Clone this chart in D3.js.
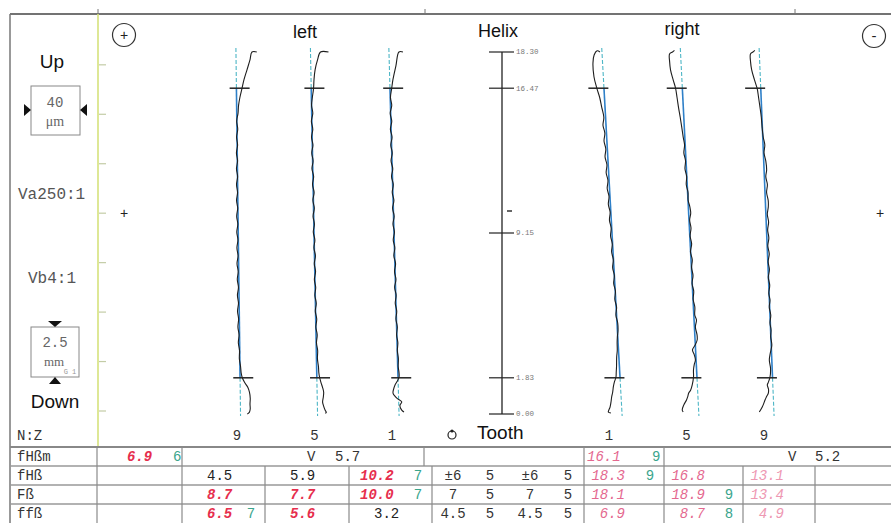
<!DOCTYPE html>
<html>
<head>
<meta charset="utf-8">
<script src="https://cdn.jsdelivr.net/npm/d3@7"></script>
<style>
  html, body { margin: 0; padding: 0; background: #fff; }
  svg { display: block; }
  .mono { font-family: "Liberation Mono", "DejaVu Sans Mono", monospace; }
  .sans { font-family: "Liberation Sans", Arial, sans-serif; }
</style>
</head>
<body>
<svg id="chart" width="891" height="523"></svg>
<script>
// Helix deviation chart, left and right flank, 3 teeth each

const leftTeeth = [9, 5, 1];
const rightTeeth = [1, 5, 9];
const helixTicks = [0, 1.83, 9.15, 16.47, 18.30];
const helixLabels = ['0.00', '1.83', '9.15', '16.47', '18.30'];
const evalRange = [1.83, 16.47];
const gridTicks = [0, 2.5, 5, 7.5, 10, 12.5, 15, 17.5];

// reference line per tooth: deviation (µm) at 0 mm and at 18.30 mm
const leftRefLines = [[4.4, -1.3], [3.8, -5.0], [8.8, -3.8]];
const rightRefLines = [[16.3, -8.8], [15.4, -7.5], [12.5, -5.9]];

// measured traces: [helix position mm, deviation from reference line µm]
const traceLeft9 = [[18.3, 26], [18.3, 20], [17.9, 17.4], [17.4, 13.5], [16.9, 9.6], [16.45, 6.9], [16.0, 4.2], [15.6, 2.4], [15.2, 1.6], [14.8, -0.2], [14.4, 1.0], [14.0, -0.6], [13.6, 0.6], [13.2, -1.0], [12.8, 0.3], [12.4, -1.2], [12.0, 0.1], [11.6, -1.4], [11.2, -0.2], [10.8, -1.6], [10.4, -0.3], [10.0, -1.7], [9.6, -0.4], [9.2, -1.8], [8.8, -0.5], [8.4, -1.9], [8.0, -0.6], [7.6, -2.0], [7.2, -0.7], [6.8, -1.9], [6.4, -0.6], [6.0, -2.0], [5.6, -0.8], [5.2, -2.1], [4.8, -0.9], [4.4, -1.9], [4.0, -0.6], [3.6, -1.6], [3.2, -0.2], [2.8, -0.6], [2.4, 0.8], [2.1, 1.4], [1.87, 2.5], [1.6, 5.5], [1.35, 9.5], [1.1, 11.5], [0.8, 12.4], [0.5, 12.0], [0.25, 12.2], [0.08, 11.0], [0.0, 8.5]];
const traceLeft5 = [[18.3, 22.5], [18.3, 12.5], [17.9, 8.6], [17.4, 5.3], [16.9, 3.7], [16.45, 2.9], [16.0, 1.2], [15.6, 0.0], [15.2, 1.4], [14.8, -0.6], [14.4, 1.0], [14.0, -0.8], [13.6, 0.8], [13.2, -0.9], [12.8, 0.6], [12.4, -1.0], [12.0, 0.9], [11.6, -0.7], [11.2, 1.1], [10.8, -0.6], [10.4, 1.0], [10.0, -0.8], [9.6, 0.7], [9.2, -0.9], [8.8, 0.9], [8.4, -0.5], [8.0, 1.2], [7.6, -0.4], [7.2, 1.0], [6.8, -0.7], [6.4, 0.8], [6.0, -0.5], [5.6, 1.1], [5.2, -0.3], [4.8, 1.3], [4.4, 0.0], [4.0, 1.5], [3.6, 0.4], [3.2, 1.7], [2.8, 1.2], [2.4, 2.3], [2.1, 2.6], [1.87, 3.4], [1.6, 5.0], [1.35, 6.9], [1.1, 8.2], [0.85, 7.6], [0.6, 6.6], [0.4, 7.8], [0.2, 9.5], [0.08, 11.0], [0.04, 9.6]];
const traceLeft1 = [[18.3, 17.5], [18.3, 12.5], [17.6, 8.2], [16.9, 4.0], [16.45, 2.1], [16.0, 0.3], [15.6, 1.6], [15.2, -0.6], [14.8, 1.1], [14.4, -0.9], [14.0, 0.9], [13.6, -1.0], [13.2, 0.6], [12.8, -1.2], [12.4, 0.7], [12.0, -1.1], [11.6, 0.8], [11.2, -0.8], [10.8, 1.0], [10.4, -0.9], [10.0, 0.8], [9.6, -1.0], [9.2, 0.6], [8.8, -1.2], [8.4, 0.5], [8.0, -1.0], [7.6, 0.9], [7.2, -0.7], [6.8, 0.8], [6.4, -1.1], [6.0, 0.5], [5.6, -0.9], [5.2, 0.7], [4.8, -0.6], [4.4, 0.9], [4.0, -0.3], [3.6, 1.0], [3.2, 0.1], [2.8, 1.1], [2.4, 0.6], [2.1, 1.4], [1.87, 1.3], [1.65, -1.2], [1.47, -4.0], [1.25, -6.0], [1.06, -6.8], [0.9, -4.5], [0.78, -1.5], [0.61, 3.8], [0.45, 1.5], [0.3, 2.0], [0.2, 3.5], [0.1, 6.2]];
const traceRight1 = [[18.3, -2.5], [18.36, -6.0], [18.15, -10.0], [17.75, -12.0], [17.05, -11.7], [16.45, -8.8], [16.0, -6.0], [15.5, -4.1], [15.0, -2.2], [14.6, -3.8], [14.2, -2.0], [13.8, -3.6], [13.4, -1.9], [13.0, -3.4], [12.6, -1.6], [12.2, -3.1], [11.8, -1.4], [11.4, -2.9], [11.0, -1.2], [10.6, -2.6], [10.2, -0.9], [9.8, -2.3], [9.4, -0.7], [9.0, -2.0], [8.6, -0.4], [8.2, -1.8], [7.8, -0.2], [7.4, -1.6], [7.0, 0.0], [6.6, -1.4], [6.2, 0.3], [5.8, -1.1], [5.4, 0.6], [5.0, -0.8], [4.6, 0.9], [4.25, 0.8], [3.9, -0.5], [3.6, -1.2], [3.2, -1.6], [2.9, -2.7], [2.4, -3.6], [2.1, -4.4], [1.87, -5.0], [1.6, -7.5], [1.37, -9.0], [1.1, -10.2], [0.86, -11.8], [0.6, -13.0], [0.35, -14.5], [0.1, -17.0], [0.05, -13.8]];
const traceRight5 = [[18.38, -7.5], [18.3, -10.0], [18.2, -13.8], [17.8, -14.2], [17.4, -13.6], [16.9, -11.0], [16.48, -8.5], [16.0, -7.2], [15.5, -6.0], [15.0, -4.5], [14.5, -3.2], [14.0, -2.0], [13.6, -0.8], [13.2, -2.2], [12.8, -0.6], [12.4, -1.8], [12.0, -0.2], [11.6, -1.2], [11.2, 0.5], [10.8, 0.2], [10.5, 1.8], [10.16, 2.6], [9.8, 0.8], [9.4, 2.0], [9.0, 0.4], [8.6, 1.8], [8.2, -0.2], [7.8, 1.6], [7.4, 0.2], [7.0, 1.5], [6.6, -0.2], [6.2, 1.4], [5.8, 0.2], [5.4, 1.8], [5.0, 1.2], [4.75, 3.0], [4.4, 1.2], [4.0, 2.8], [3.74, 2.6], [3.5, 0.0], [3.24, -3.9], [3.0, -2.0], [2.73, -0.8], [2.5, -2.6], [2.22, -3.9], [1.87, -4.3], [1.47, -6.4], [1.2, -8.8], [1.06, -11.3], [0.85, -13.0], [0.71, -14.5], [0.45, -18.3], [0.2, -20.5], [0.1, -19.4]];
const traceRight9 = [[18.38, -5.4], [18.3, -7.9], [18.2, -11.1], [17.8, -11.4], [17.4, -10.4], [16.9, -7.5], [16.43, -4.4], [16.0, -3.2], [15.5, -1.9], [15.0, -0.8], [14.5, -0.3], [14.0, 0.6], [13.6, 2.2], [13.2, 0.8], [12.8, 2.6], [12.34, 3.2], [12.0, 1.8], [11.6, 3.4], [11.2, 2.0], [10.8, 3.6], [10.47, 3.4], [10.1, 1.8], [9.7, 3.0], [9.3, 1.4], [8.9, 2.5], [8.5, 0.8], [8.1, 2.2], [7.7, 0.4], [7.3, 1.6], [6.9, -0.2], [6.5, 1.2], [6.1, -0.4], [5.76, 0.8], [5.4, -0.5], [5.0, 1.0], [4.6, -0.4], [4.25, 0.6], [3.9, -0.2], [3.49, 0.8], [3.1, -1.4], [2.73, -3.1], [2.3, -2.0], [1.87, -3.1], [1.6, -5.5], [1.47, -6.9], [1.25, -5.6], [1.06, -6.0], [0.85, -8.8], [0.71, -10.5], [0.5, -12.6], [0.3, -15.1], [0.1, -18.3]];

const leftTraces = [traceLeft9, traceLeft5, traceLeft1];
const rightTraces = [traceRight1, traceRight5, traceRight9];

// evaluation table
const rowLabels = ['fHßm', 'fHß', 'Fß', 'ffß'];
const fHbmValues = [6.9, 16.1];
const fHbmClasses = [6, 9];
const fHbmSpread = [5.7, 5.2];
const fHbLeft = [4.5, 5.9, 10.2];
const fHbLeftClass = [null, null, 7];
const fHbRight = [18.3, 16.8, 13.1];
const fHbRightClass = [9, null, null];
const FbLeft = [8.7, 7.7, 10.0];
const FbLeftClass = [null, null, 7];
const FbRight = [18.1, 18.9, 13.4];
const FbRightClass = [null, 9, null];
const ffbLeft = [6.5, 5.6, 3.2];
const ffbLeftClass = [7, null, null];
const ffbRight = [6.9, 8.7, 4.9];
const ffbRightClass = [null, 8, null];
const toleranceTexts = [['±6', '5', '±6', '5'], ['7', '5', '7', '5'], ['4.5', '5', '4.5', '5']];
const toleranceLimits = [6, 7, 4.5];

class HelixChart {
    constructor() {
        this.svg = d3.select('#chart');
        this.width = 891;
        this.height = 523;
        this.y = d3.scaleLinear().domain([0, 18.3]).range([414, 52]);
        this.dev = d3.scaleLinear().domain([-20, 20]).range([-16, 16]);
        this.xLeft = d3.scalePoint().domain(leftTeeth).range([237, 392]);
        this.xRight = d3.scalePoint().domain(rightTeeth).range([609, 764]);
        this.axisX = 502;

        this.renderFrame();
        this.renderLeftPanel();
        this.renderHelixAxis();
        this.renderTraces(leftTeeth, this.xLeft, leftRefLines, leftTraces, 4);
        this.renderTraces(rightTeeth, this.xRight, rightRefLines, rightTraces, -7);
        this.renderTable();
    }

    renderFrame() {
        const svg = this.svg;
        svg.append('line').attr('x1', 10).attr('x2', this.width).attr('y1', 14).attr('y2', 14)
            .attr('stroke', '#444').attr('stroke-width', 1.5);
        svg.append('line').attr('x1', 10).attr('x2', 10).attr('y1', 14).attr('y2', this.height)
            .attr('stroke', '#777').attr('stroke-width', 1.5);
        [98, 425, 795].forEach(x => {
            svg.append('line').attr('x1', x).attr('x2', x).attr('y1', 9).attr('y2', 14)
                .attr('stroke', '#777').attr('stroke-width', 1);
        });

        // yellow scale line with 2.5 mm graduation
        svg.append('line').attr('x1', 98).attr('x2', 98).attr('y1', 14).attr('y2', 447)
            .attr('stroke', '#d6e27c').attr('stroke-width', 1.6);
        svg.selectAll('.grad').data(gridTicks).enter().append('line')
            .attr('x1', 99).attr('x2', 106)
            .attr('y1', d => this.y(d) - 3).attr('y2', d => this.y(d) - 3)
            .attr('stroke', '#c3cca6').attr('stroke-width', 1.2);

        // headings
        const head = [['left', 305, 38], ['Helix', 498, 37], ['right', 682, 35]];
        head.forEach(([t, x, y]) => {
            svg.append('text').attr('class', 'sans').attr('x', x).attr('y', y)
                .attr('text-anchor', 'middle').attr('font-size', 18).attr('fill', '#111').text(t);
        });

        // + / - circles
        svg.append('circle').attr('cx', 124).attr('cy', 35).attr('r', 11.5)
            .attr('fill', 'none').attr('stroke', '#333').attr('stroke-width', 1.2);
        svg.append('text').attr('class', 'sans').attr('x', 124).attr('y', 40).attr('text-anchor', 'middle')
            .attr('font-size', 14).attr('fill', '#222').text('+');
        svg.append('circle').attr('cx', 874).attr('cy', 36).attr('r', 11.5)
            .attr('fill', 'none').attr('stroke', '#333').attr('stroke-width', 1.2);
        svg.append('text').attr('class', 'sans').attr('x', 874).attr('y', 41).attr('text-anchor', 'middle')
            .attr('font-size', 15).attr('fill', '#222').text('-');

        svg.append('text').attr('class', 'sans').attr('x', 124).attr('y', 218).attr('text-anchor', 'middle')
            .attr('font-size', 14).attr('fill', '#222').text('+');
        svg.append('text').attr('class', 'sans').attr('x', 880).attr('y', 218).attr('text-anchor', 'middle')
            .attr('font-size', 14).attr('fill', '#222').text('+');
    }

    renderLeftPanel() {
        const svg = this.svg;
        svg.append('text').attr('class', 'sans').attr('x', 52).attr('y', 68).attr('text-anchor', 'middle')
            .attr('font-size', 19).attr('fill', '#111').text('Up');
        svg.append('text').attr('class', 'sans').attr('x', 55).attr('y', 408).attr('text-anchor', 'middle')
            .attr('font-size', 19).attr('fill', '#111').text('Down');

        // 40 µm box
        svg.append('rect').attr('x', 31).attr('y', 86).attr('width', 49).attr('height', 49)
            .attr('fill', '#fff').attr('stroke', '#888').attr('stroke-width', 1);
        svg.append('path').attr('d', 'M24,104 L31,110 L24,116 Z').attr('fill', '#111');
        svg.append('path').attr('d', 'M87,104 L80,110 L87,116 Z').attr('fill', '#111');
        svg.append('text').attr('class', 'mono').attr('x', 55).attr('y', 107).attr('text-anchor', 'middle')
            .attr('font-size', 14).attr('fill', '#666').text('40');
        svg.append('text').attr('x', 55).attr('y', 126).attr('text-anchor', 'middle')
            .attr('font-family', 'Liberation Serif, serif').attr('font-size', 14).attr('fill', '#666').text('μm');

        svg.append('text').attr('class', 'mono').attr('x', 18).attr('y', 199)
            .attr('font-size', 16).attr('fill', '#555').text('Va250:1');
        svg.append('text').attr('class', 'mono').attr('x', 28).attr('y', 283)
            .attr('font-size', 16).attr('fill', '#555').text('Vb4:1');

        // 2.5 mm box
        svg.append('rect').attr('x', 31).attr('y', 327).attr('width', 48).attr('height', 50)
            .attr('fill', '#fff').attr('stroke', '#888').attr('stroke-width', 1);
        svg.append('path').attr('d', 'M48,321 L62,321 L55,327 Z').attr('fill', '#111');
        svg.append('path').attr('d', 'M49,384 L61,384 L55,377 Z').attr('fill', '#111');
        svg.append('text').attr('class', 'mono').attr('x', 55).attr('y', 347).attr('text-anchor', 'middle')
            .attr('font-size', 14).attr('fill', '#666').text('2.5');
        svg.append('text').attr('x', 54).attr('y', 366).attr('text-anchor', 'middle')
            .attr('font-family', 'Liberation Serif, serif').attr('font-size', 13).attr('fill', '#666').text('mm');
        svg.append('text').attr('class', 'mono').attr('x', 70).attr('y', 374).attr('text-anchor', 'middle')
            .attr('font-size', 7).attr('fill', '#999').text('G 1');

        svg.append('text').attr('class', 'mono').attr('x', 17).attr('y', 440)
            .attr('font-size', 14).attr('fill', '#333').text('N:Z');
    }

    renderHelixAxis() {
        const svg = this.svg;
        const x = this.axisX;
        svg.append('line').attr('x1', x).attr('x2', x)
            .attr('y1', this.y(d3.max(helixTicks))).attr('y2', this.y(0))
            .attr('stroke', '#222').attr('stroke-width', 1.3);
        const g = svg.selectAll('.htick').data(helixTicks).enter().append('g')
            .attr('transform', d => `translate(${x},${this.y(d)})`);
        g.append('line').attr('x1', -13).attr('x2', 12).attr('stroke', '#222').attr('stroke-width', 1.2);
        g.append('text').attr('class', 'mono').attr('x', 14).attr('dy', '0.33em')
            .attr('font-size', 7.5).attr('fill', '#777').text((d, i) => helixLabels[i]);

        svg.append('line').attr('x1', x + 5).attr('x2', x + 10).attr('y1', 211).attr('y2', 211)
            .attr('stroke', '#333').attr('stroke-width', 1.5);

        // tooth marker
        svg.append('circle').attr('cx', 452).attr('cy', 435).attr('r', 4)
            .attr('fill', 'none').attr('stroke', '#222').attr('stroke-width', 1.2);
        svg.append('circle').attr('cx', 452).attr('cy', 431).attr('r', 1.6).attr('fill', '#222');
        svg.append('text').attr('class', 'sans').attr('x', 477).attr('y', 439)
            .attr('font-size', 19).attr('fill', '#111').text('Tooth');
    }

    renderTraces(teeth, xScale, refs, traces, barOffset) {
        const svg = this.svg;
        const top = d3.max(helixTicks);
        teeth.forEach((tooth, i) => {
            const base = xScale(tooth);
            const [r0, r1] = refs[i];
            const refAt = mm => r0 + (r1 - r0) * mm / top;
            const g = svg.append('g').attr('class', 'tooth');

            const refLine = d3.line()
                .x(mm => base + this.dev(refAt(mm)))
                .y(mm => this.y(mm));

            // dashed outside evaluation range, solid inside
            g.append('path').attr('d', refLine([top + 0.2, evalRange[1]]))
                .attr('fill', 'none').attr('stroke', '#4db6c6').attr('stroke-width', 1.1)
                .attr('stroke-dasharray', '4,2');
            g.append('path').attr('d', refLine([evalRange[0], -0.1]))
                .attr('fill', 'none').attr('stroke', '#4db6c6').attr('stroke-width', 1.1)
                .attr('stroke-dasharray', '4,2');
            g.append('path').attr('d', refLine([evalRange[1], evalRange[0]]))
                .attr('fill', 'none').attr('stroke', '#2f80c8').attr('stroke-width', 1.6);

            const line = d3.line()
                .x(d => base + this.dev(refAt(d[0]) + d[1]))
                .y(d => this.y(d[0]))
                .curve(d3.curveCatmullRom);
            g.append('path').attr('d', line(traces[i]))
                .attr('fill', 'none').attr('stroke', '#1e1e1e').attr('stroke-width', 1.1);

            // evaluation limits
            evalRange.forEach(mm => {
                const cx = base + this.dev(refAt(mm) + barOffset);
                g.append('line').attr('x1', cx - 10).attr('x2', cx + 10)
                    .attr('y1', this.y(mm)).attr('y2', this.y(mm))
                    .attr('stroke', '#222').attr('stroke-width', 1.5);
            });

            svg.append('text').attr('class', 'mono').attr('x', base).attr('y', 440)
                .attr('text-anchor', 'middle').attr('font-size', 14).attr('fill', '#333').text(tooth);
        });
    }

    renderTable() {
        const svg = this.svg;
        const rowTop = [447, 466, 485, 504];
        const rowH = 19;
        const leftCells = [182, 265, 349, 432];
        const rightCells = [584, 664, 743, 815];
        const tolX = [453, 490, 530, 568];
        const red = '#e62e4d', pink = '#e4688f', paler = '#ee98b2', green = '#3aa58c';

        const txt = (x, y, s, opts = {}) => svg.append('text').attr('class', 'mono')
            .attr('x', x).attr('y', y).attr('font-size', 14)
            .attr('text-anchor', opts.anchor || 'start')
            .attr('fill', opts.fill || '#333')
            .attr('font-weight', opts.bold ? 'bold' : 'normal')
            .attr('font-style', opts.italic ? 'italic' : 'normal')
            .text(s);
        const vline = (x, y1, y2) => svg.append('line').attr('x1', x).attr('x2', x)
            .attr('y1', y1).attr('y2', y2).attr('stroke', '#8a8a8a').attr('stroke-width', 1.2);

        // horizontal rules
        svg.append('line').attr('x1', 10).attr('x2', this.width).attr('y1', rowTop[0]).attr('y2', rowTop[0])
            .attr('stroke', '#888').attr('stroke-width', 2);
        rowTop.slice(1).forEach(y => {
            svg.append('line').attr('x1', 10).attr('x2', this.width).attr('y1', y).attr('y2', y)
                .attr('stroke', '#999').attr('stroke-width', 1.4);
        });
        vline(97, rowTop[0], this.height);

        rowLabels.forEach((l, i) => txt(17, rowTop[i] + 14, l, { fill: '#333' }));

        // row fHßm
        const r0 = rowTop[0], b0 = r0 + 14;
        [182, 424, 584, 664].forEach(x => vline(x, r0, r0 + rowH));
        txt(127, b0, fHbmValues[0].toFixed(1), { fill: fHbmValues[0] > toleranceLimits[0] ? red : '#333', bold: true, italic: true });
        txt(173, b0, fHbmClasses[0], { fill: green });
        txt(307, b0, 'V');
        txt(335, b0, fHbmSpread[0].toFixed(1));
        txt(587, b0, fHbmValues[1].toFixed(1), { fill: fHbmValues[1] > toleranceLimits[0] ? pink : '#333', italic: true });
        txt(652, b0, fHbmClasses[1], { fill: green });
        txt(788, b0, 'V');
        txt(815, b0, fHbmSpread[1].toFixed(1));

        const rows = [
            [fHbLeft, fHbLeftClass, fHbRight, fHbRightClass],
            [FbLeft, FbLeftClass, FbRight, FbRightClass],
            [ffbLeft, ffbLeftClass, ffbRight, ffbRightClass]
        ];
        rows.forEach(([lv, lc, rv, rc], k) => {
            const top = rowTop[k + 1], b = top + 14;
            const limit = toleranceLimits[k];
            leftCells.concat(rightCells).forEach(x => vline(x, top, top + rowH));

            lv.forEach((v, j) => {
                const s = v.toFixed(1);
                const x0 = leftCells[j];
                const over = v > limit;
                txt(x0 + (s.length > 3 ? 11 : 25), b, s, { fill: over ? red : '#222', bold: over, italic: over });
                if (lc[j] != null) txt(leftCells[j + 1] - 14, b, lc[j], { fill: green, anchor: 'middle' });
            });
            toleranceTexts[k].forEach((s, j) => txt(tolX[j], b, s, { anchor: 'middle', fill: '#333' }));
            rv.forEach((v, j) => {
                const s = v.toFixed(1);
                const x0 = rightCells[j];
                const over = v > limit;
                const col = j === 2 ? paler : pink;
                txt(x0 + 41, b, s, { fill: over ? col : '#222', italic: over, anchor: 'end' });
                if (rc[j] != null) txt(rightCells[j + 1] - 14, b, rc[j], { fill: green, anchor: 'middle' });
            });
        });
    }
}

document.addEventListener('DOMContentLoaded', () => {
    new HelixChart();
});
</script>
</body>
</html>
